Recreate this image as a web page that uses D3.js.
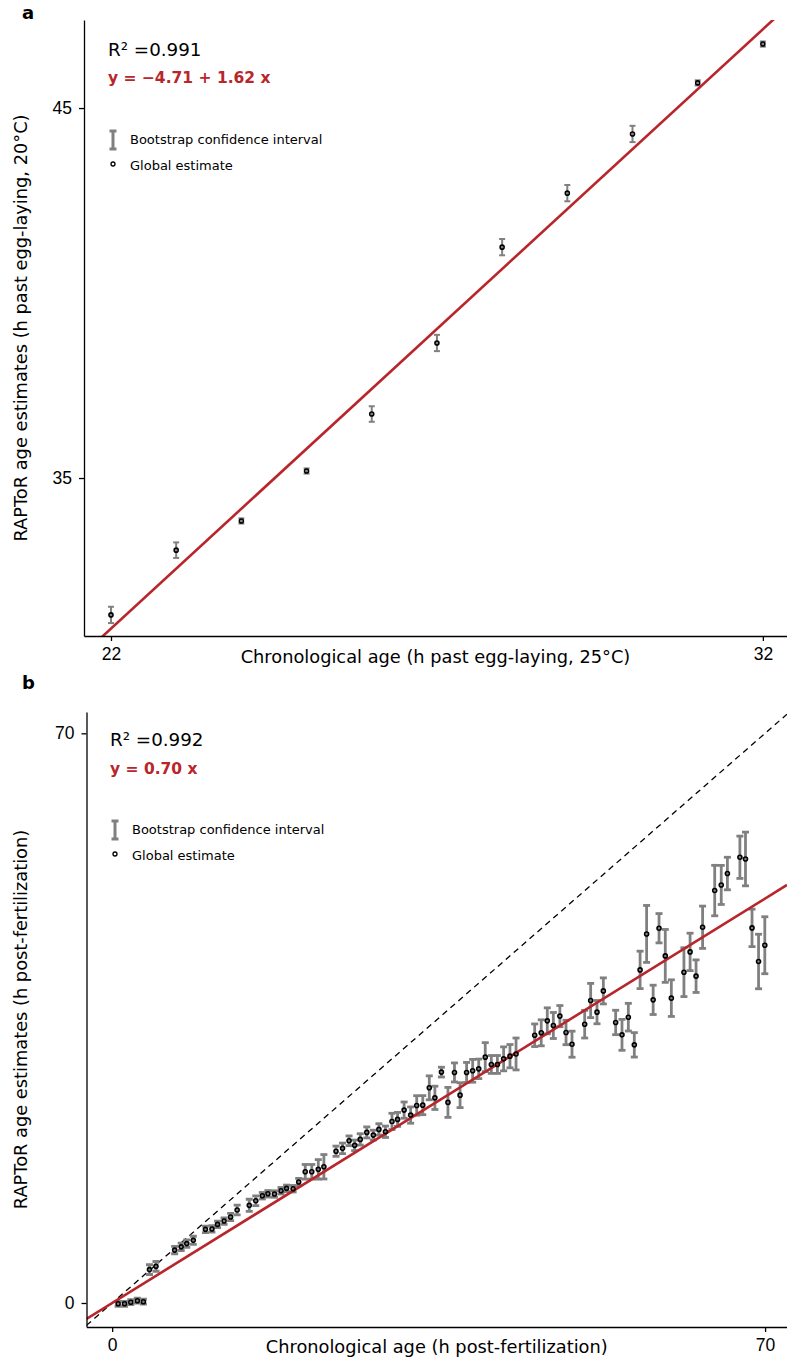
<!DOCTYPE html>
<html lang="en">
<head>
<meta charset="UTF-8">
<title>RAPToR age estimates vs chronological age</title>
<script src="https://d3js.org/d3.v7.min.js"></script>
<style>
  body { margin: 0; background: #fff; }
  svg { display: block; font-family: 'DejaVu Sans', sans-serif; }
  .tick text { font-size: 17.5px; fill: #000; }
  .domain, .tick line { stroke: #000; stroke-width: 1.3px; }
  .lab { font-size: 17.8px; fill: #000; }
  .leg { font-size: 13px; fill: #000; }
</style>
</head>
<body>
<svg width="787" height="1360"></svg>
<script>
// ---- panel a : chronological age (h past egg-laying, 25°C) ----
const ageA = [22, 23, 24, 25, 26, 27, 28, 29, 30, 31, 32];
const estA = [31.30, 33.05, 33.84, 35.19, 36.73, 38.65, 41.24, 42.70, 44.30, 45.68, 46.73];
const ciA  = [0.22, 0.21, 0.07, 0.07, 0.21, 0.22, 0.22, 0.22, 0.22, 0.07, 0.07];
const fitA = { intercept: -4.71, slope: 1.62 };

// ---- panel b : chronological age (h post-fertilization) ----
const ageB = [0.64, 1.33, 2.0, 2.7, 3.35, 4.0, 4.7, 6.7, 7.4, 8.0, 8.7,
  10.0, 10.7, 11.3, 12.0, 12.7, 13.4, 14.7, 15.4, 16.1, 16.7, 17.4, 18.1, 18.7, 19.4, 20.0,
  20.7, 21.4, 22.1, 22.7, 24.0, 24.7, 25.4, 26.0, 26.6, 27.3, 28.0, 28.6, 29.3, 30.0,
  30.6, 31.3, 32.0, 32.65, 33.3, 34.0, 34.6, 35.3, 36.0, 36.7, 37.3, 38.0, 38.65, 39.3,
  40.0, 40.65, 41.3, 41.97, 42.65, 43.3, 45.3, 46.0, 46.65, 47.3, 48.0, 48.66, 49.3,
  50.66, 51.3, 51.98, 52.66, 53.98, 54.66, 55.34, 55.98, 56.6, 57.3, 58.0, 58.63, 59.3,
  59.95, 61.3, 61.96, 62.6, 63.3, 64.6, 65.3, 65.96, 67.3, 67.9, 68.6, 69.3, 69.97];
const estB = [-0.1, -0.1, 0.1, 0.28, 0.16, 4.1, 4.5, 6.5, 6.9, 7.3, 7.7,
  9.05, 9.1, 9.66, 10.07, 10.56, 11.42, 12.0, 12.56, 13.18, 13.42, 13.39, 13.79, 14.09, 14.04, 14.86,
  16.12, 16.12, 16.42, 16.74, 18.65, 19.0, 19.93, 19.37, 20.1, 20.96, 20.63, 21.33, 21.04, 22.31,
  22.56, 23.7, 23.09, 24.27, 24.31, 26.44, 25.21, 28.37, 24.65, 28.33, 25.54, 28.33, 28.53, 28.77,
  30.21, 29.31, 29.31, 30.0, 30.33, 30.6, 32.9, 33.2, 34.67, 34.1, 35.25, 33.24, 31.8,
  34.26, 37.17, 35.74, 38.35, 34.47, 32.95, 35.12, 31.72, 40.93, 45.35, 37.25, 46.05, 42.65,
  37.46, 40.65, 43.14, 40.16, 46.17, 50.68, 51.37, 52.77, 54.77, 54.56, 46.09, 41.96, 43.96];
const ciB = [0.3, 0.3, 0.3, 0.3, 0.3, 0.6, 0.6, 0.45, 0.45, 0.45, 0.5,
  0.4, 0.4, 0.4, 0.4, 0.45, 0.6, 0.75, 0.6, 0.4, 0.4, 0.4, 0.4, 0.4, 0.4, 0.45,
  0.9, 0.9, 1.2, 1.5, 0.63, 0.65, 0.6, 0.65, 0.7, 0.68, 0.6, 0.7, 0.7, 1.0,
  0.86, 1.0, 1.0, 1.2, 1.17, 1.47, 1.43, 0.6, 1.84, 1.17, 1.53, 1.23, 1.4, 1.2,
  1.78, 1.1, 1.1, 1.47, 1.43, 1.96, 1.39, 1.6, 1.6, 1.6, 1.3, 1.5, 1.6,
  1.7, 2.1, 1.43, 1.6, 1.5, 1.9, 1.7, 1.5, 2.3, 3.5, 1.8, 1.8, 3.25,
  2.25, 3.0, 2.3, 2.0, 2.6, 3.1, 2.4, 2.0, 2.6, 3.3, 2.3, 3.35, 3.5];
const fitB = { intercept: 0, slope: 0.71 };

const svg = d3.select("svg");
const red = "#b8262b";
const barGrey = "#808080";

function drawPanel(p) {
  const x = d3.scaleLinear().domain(p.xDomain).range(p.xRange);
  const y = d3.scaleLinear().domain(p.yDomain).range(p.yRange);
  const g = svg.append("g");

  const clipId = "clip-" + p.letter;
  svg.append("clipPath").attr("id", clipId)
    .append("rect")
    .attr("x", p.xRange[0]).attr("y", p.yRange[1])
    .attr("width", p.xRange[1] - p.xRange[0])
    .attr("height", p.yRange[0] - p.yRange[1]);

  const plot = g.append("g").attr("clip-path", `url(#${clipId})`);
  const line = d3.line().x(d => x(d[0])).y(d => y(d[1]));

  if (p.identity) {
    plot.append("path")
      .attr("d", line(p.xDomain.map(v => [v, v])))
      .attr("fill", "none").attr("stroke", "#000")
      .attr("stroke-width", 1.3).attr("stroke-dasharray", "6,4.5");
  }

  const pts = p.ages.map((a, i) => ({ a, e: p.est[i], c: p.ci[i] }));
  const bars = plot.append("g").attr("stroke", barGrey).attr("stroke-width", p.barW);
  pts.forEach(d => {
    const cx = x(d.a), y0 = y(d.e - d.c), y1 = y(d.e + d.c);
    bars.append("line").attr("x1", cx).attr("x2", cx).attr("y1", y0).attr("y2", y1);
    bars.append("line").attr("x1", cx - p.capW / 2).attr("x2", cx + p.capW / 2).attr("y1", y0).attr("y2", y0);
    bars.append("line").attr("x1", cx - p.capW / 2).attr("x2", cx + p.capW / 2).attr("y1", y1).attr("y2", y1);
  });

  plot.append("path")
    .attr("d", line(p.xDomain.map(v => [v, p.fit.intercept + p.fit.slope * v])))
    .attr("fill", "none").attr("stroke", red).attr("stroke-width", 2.6);

  plot.append("g").selectAll("circle").data(pts).join("circle")
    .attr("cx", d => x(d.a)).attr("cy", d => y(d.e)).attr("r", 2)
    .attr("fill", "none").attr("stroke", "#000").attr("stroke-width", 1.6);

  g.append("g").attr("transform", `translate(0,${p.yRange[0]})`)
    .call(d3.axisBottom(x).tickValues(p.xTicks).tickSize(5).tickPadding(7).tickSizeOuter(0));
  g.append("g").attr("transform", `translate(${p.xRange[0]},0)`)
    .call(d3.axisLeft(y).tickValues(p.yTicks).tickSize(5).tickPadding(7).tickSizeOuter(0));

  // axis titles
  g.append("text").attr("class", "lab").attr("text-anchor", "middle")
    .attr("x", (p.xRange[0] + p.xRange[1]) / 2).attr("y", p.xTitleY).text(p.xTitle);
  g.append("text").attr("class", "lab").attr("text-anchor", "middle")
    .attr("transform", `translate(27,${(p.yRange[0] + p.yRange[1]) / 2}) rotate(-90)`)
    .text(p.yTitle);

  // panel letter
  g.append("text").attr("x", 22).attr("y", p.letterY)
    .attr("font-weight", "bold").attr("font-size", 18).text(p.letter);

  // fit statistics
  g.append("text").attr("x", p.textX).attr("y", p.r2Y)
    .attr("font-size", 18.3).text(p.r2);
  g.append("text").attr("x", p.textX).attr("y", p.eqY)
    .attr("font-size", 15.5).attr("font-weight", "bold").attr("fill", red).text(p.eq);

  // legend
  const lx = p.textX + 5, ly = p.legY;
  const leg = g.append("g").attr("stroke", barGrey).attr("stroke-width", 3);
  leg.append("line").attr("x1", lx).attr("x2", lx).attr("y1", ly - 9).attr("y2", ly + 9);
  leg.append("line").attr("x1", lx - 3.5).attr("x2", lx + 3.5).attr("y1", ly - 9).attr("y2", ly - 9);
  leg.append("line").attr("x1", lx - 3.5).attr("x2", lx + 3.5).attr("y1", ly + 9).attr("y2", ly + 9);
  g.append("text").attr("class", "leg").attr("x", lx + 17).attr("y", ly + 4)
    .text("Bootstrap confidence interval");
  g.append("circle").attr("cx", lx).attr("cy", ly + 24).attr("r", 2)
    .attr("fill", "#fff").attr("stroke", "#000").attr("stroke-width", 1.3);
  g.append("text").attr("class", "leg").attr("x", lx + 17).attr("y", ly + 30)
    .text("Global estimate");
}

drawPanel({
  letter: "a", letterY: 19,
  ages: ageA, est: estA, ci: ciA, fit: fitA,
  xDomain: [21.586, 32.37], xRange: [84, 787],
  yDomain: [30.73, 47.38], yRange: [636, 20],
  xTicks: [22, 32], yTicks: [35, 45],
  barW: 2, capW: 6, identity: false,
  xTitle: "Chronological age (h past egg-laying, 25°C)", xTitleY: 663,
  yTitle: "RAPToR age estimates (h past egg-laying, 20°C)",
  textX: 108, r2: "R² =0.991", r2Y: 56, eq: "y = −4.71 + 1.62 x", eqY: 83,
  legY: 140
});

drawPanel({
  letter: "b", letterY: 689,
  ages: ageB, est: estB, ci: ciB, fit: fitB,
  xDomain: [-2.75, 72.35], xRange: [86.5, 787],
  yDomain: [-2.95, 72.62], yRange: [1327, 712],
  xTicks: [0, 70], yTicks: [0, 70],
  barW: 2.8, capW: 7, identity: true,
  xTitle: "Chronological age (h post-fertilization)", xTitleY: 1353,
  yTitle: "RAPToR age estimates (h post-fertilization)",
  textX: 110, r2: "R² =0.992", r2Y: 746, eq: "y = 0.70 x", eqY: 774,
  legY: 830
});
</script>
</body>
</html>
